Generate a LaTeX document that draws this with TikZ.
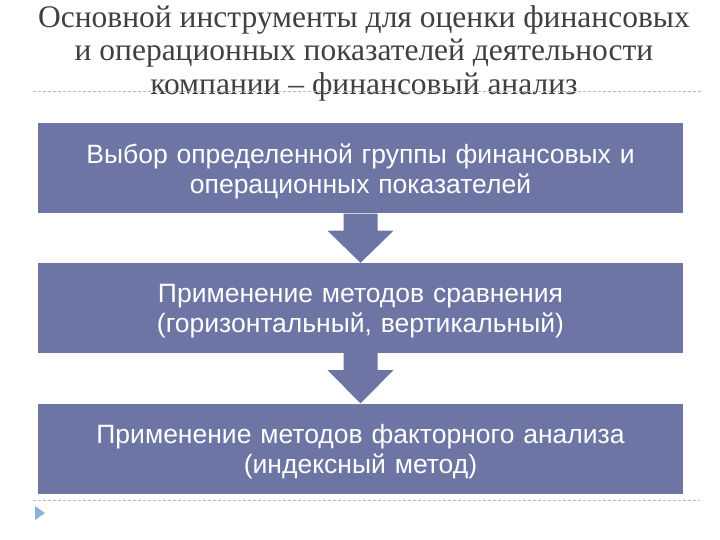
\documentclass[tikz,border=0pt]{standalone}
\usepackage{fontspec}
\setmainfont{Liberation Serif}
\newfontfamily\arialfont{Liberation Sans}
\usetikzlibrary{calc}
\definecolor{boxblue}{RGB}{108,117,164}
\definecolor{titlegrey}{RGB}{64,64,64}
\definecolor{dashgrey}{RGB}{185,185,185}
\definecolor{triblue}{RGB}{140,175,215}
\tikzset{
  stepbox/.style={rectangle, fill=boxblue, minimum width=645pt, minimum height=90pt, inner sep=0pt},
  boxtext/.style={text=white, align=center, font=\arialfont\fontsize{26.5}{29.5}\selectfont,
    text width=640pt, inner sep=0pt, yshift=-3pt},
  blockarrow/.style={fill=boxblue},
  rule/.style={draw=dashgrey, dashed, line width=0.6pt, dash pattern=on 3pt off 2pt}
}
\begin{document}
\begin{tikzpicture}[x=1pt,y=-1pt]
\useasboundingbox (0,0) rectangle (720,540);
\node[text=titlegrey, align=center, font=\fontsize{31.5}{33.5}\selectfont] (title) at (364,53)
  {Основной инструменты для оценки финансовых\\и операционных показателей деятельности\\компании – финансовый анализ};
\coordinate (r1a) at (33,91);
\coordinate (r1b) at (703,91);
\draw[rule] (r1a) -- (r1b);
\node[stepbox] (b1) at (360.5,168.5) {};
\node[stepbox] (b2) at (360.5,308) {};
\node[stepbox] (b3) at (360.5,448.5) {};
\node[boxtext] (t1) at (b1.center) {Выбор определенной группы финансовых и\\операционных показателей};
\node[boxtext] (t2) at (b2.center) {Применение методов сравнения\\(горизонтальный, вертикальный)};
\node[boxtext] (t3) at (b3.center) {Применение методов факторного анализа\\(индексный метод)};
\foreach \a/\b in {b1/b2, b2/b3}{
  \fill[blockarrow] ($(\a.south)+(-17,0)$) -- ($(\a.south)+(-17,17)$) -- ($(\a.south)+(-33,17)$)
    -- (\b.north) -- ($(\a.south)+(33,17)$) -- ($(\a.south)+(17,17)$) -- ($(\a.south)+(17,0)$) -- cycle;
}
\coordinate (r2a) at (33,500);
\coordinate (r2b) at (700,500);
\draw[rule] (r2a) -- (r2b);
\fill[triblue] (35,506) -- (45,513) -- (35,520) -- cycle;
\end{tikzpicture}
\end{document}
